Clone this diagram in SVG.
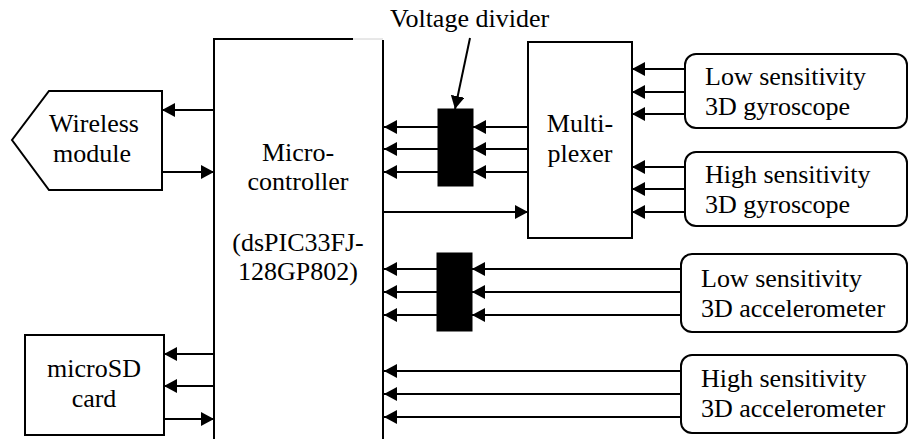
<svg xmlns="http://www.w3.org/2000/svg" width="909" height="439" viewBox="0 0 909 439">
<defs>
<style>
.t{font-family:"Liberation Serif","Times New Roman",serif;font-size:26px;fill:#000}
.m{text-anchor:middle}
.b{fill:#fff;stroke:#000;stroke-width:2}
.c{stroke:#000;stroke-width:2;fill:none}
.k{fill:#000;stroke:#000;stroke-width:1}
</style>
<marker id="ah" markerUnits="userSpaceOnUse" markerWidth="14" markerHeight="14" refX="13" refY="7" orient="auto" viewBox="0 0 14 14">
<path d="M0,0 L13,7 L0,14 Z" fill="#000"/>
</marker>
</defs>
<rect width="909" height="439" fill="#fff"/>

<g id="microcontroller">
<path class="c" d="M214,439 V39 H353"/>
<line x1="353" y1="39" x2="383" y2="39" stroke="#d0d0d0" stroke-width="1"/>
<line class="c" x1="383" y1="40" x2="383" y2="439"/>
<text class="t m" x="298" y="161">Micro-</text>
<text class="t m" x="298" y="190">controller</text>
<text class="t m" x="298" y="251">(dsPIC33FJ-</text>
<text class="t m" x="298" y="280">128GP802)</text>
</g>

<g id="wireless">
<path class="b" d="M49,91 H162 V190 H49 L12,140 Z"/>
<text class="t m" x="94" y="132">Wireless</text>
<text class="t m" x="92" y="162">module</text>
</g>

<g id="microsd">
<rect class="b" x="25" y="335" width="139" height="100"/>
<text class="t m" x="94" y="377">microSD</text>
<text class="t m" x="94" y="407">card</text>
</g>

<g id="multiplexer">
<rect class="b" x="528" y="42" width="104" height="196"/>
<text class="t m" x="580" y="132">Multi-</text>
<text class="t m" x="580" y="162">plexer</text>
</g>

<g id="divider1">
<rect class="k" x="438" y="109" width="35" height="77"/>
</g>
<g id="divider2">
<rect class="k" x="437" y="253" width="35" height="78"/>
</g>

<g id="divider-label">
<text class="t" x="390" y="27">Voltage divider</text>
</g>

<g id="gyro-low">
<rect class="b" x="685" y="54" width="222" height="74" rx="11"/>
<text class="t" x="705" y="85">Low sensitivity</text>
<text class="t" x="705" y="115">3D gyroscope</text>
</g>
<g id="gyro-high">
<rect class="b" x="685" y="152" width="222" height="74" rx="11"/>
<text class="t" x="705" y="183">High sensitivity</text>
<text class="t" x="705" y="213">3D gyroscope</text>
</g>
<g id="acc-low">
<rect class="b" x="681" y="254" width="226" height="78" rx="11"/>
<text class="t" x="701" y="287">Low sensitivity</text>
<text class="t" x="701" y="317">3D accelerometer</text>
</g>
<g id="acc-high">
<rect class="b" x="681" y="355" width="226" height="78" rx="11"/>
<text class="t" x="701" y="387">High sensitivity</text>
<text class="t" x="701" y="417">3D accelerometer</text>
</g>

<g id="connectors" class="c" marker-end="url(#ah)">
<line x1="214" y1="110" x2="162" y2="110"/>
<line x1="162" y1="172" x2="214" y2="172"/>
<line x1="214" y1="354" x2="164" y2="354"/>
<line x1="214" y1="386" x2="164" y2="386"/>
<line x1="164" y1="419" x2="214" y2="419"/>
<line x1="470" y1="38" x2="455" y2="109"/>
<line x1="438" y1="127" x2="384" y2="127"/>
<line x1="438" y1="149" x2="384" y2="149"/>
<line x1="438" y1="172" x2="384" y2="172"/>
<line x1="528" y1="127" x2="473" y2="127"/>
<line x1="528" y1="149" x2="473" y2="149"/>
<line x1="528" y1="172" x2="473" y2="172"/>
<line x1="383" y1="212" x2="528" y2="212"/>
<line x1="685" y1="69" x2="632" y2="69"/>
<line x1="685" y1="92" x2="632" y2="92"/>
<line x1="685" y1="114" x2="632" y2="114"/>
<line x1="685" y1="167" x2="632" y2="167"/>
<line x1="685" y1="189" x2="632" y2="189"/>
<line x1="685" y1="212" x2="632" y2="212"/>
<line x1="437" y1="269" x2="384" y2="269"/>
<line x1="437" y1="292" x2="384" y2="292"/>
<line x1="437" y1="315" x2="384" y2="315"/>
<line x1="681" y1="269" x2="472" y2="269"/>
<line x1="681" y1="292" x2="472" y2="292"/>
<line x1="681" y1="315" x2="472" y2="315"/>
<line x1="681" y1="371" x2="384" y2="371"/>
<line x1="681" y1="394" x2="384" y2="394"/>
<line x1="681" y1="417" x2="384" y2="417"/>
</g>
</svg>
